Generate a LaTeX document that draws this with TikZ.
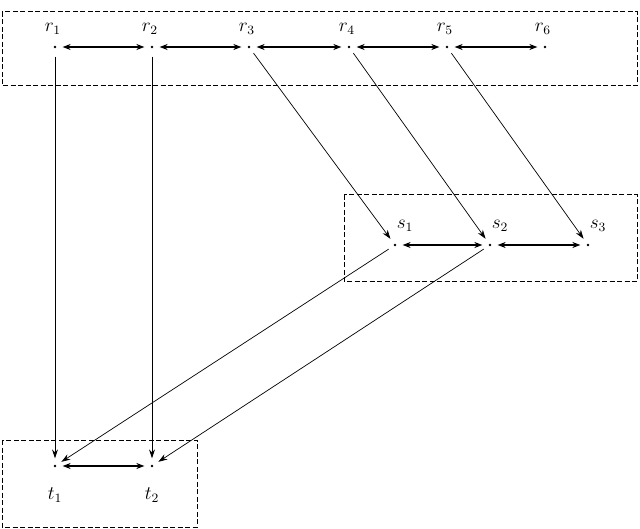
\documentclass[tikz,border=0pt]{standalone}
\usetikzlibrary{arrows.meta}
\begin{document}
\begin{tikzpicture}[x=1pt,y=-1pt,
  pt/.style={circle,fill,inner sep=1pt},
  lab/.style={inner sep=1pt,scale=1.6,font=\large},
  grp/.style={draw,line width=1pt,dash pattern=on 5pt off 2.5pt},
  bi/.style={{Stealth[length=8pt,width=6pt]}-{Stealth[length=8pt,width=6pt]},line width=2pt,shorten <=6pt,shorten >=6pt},
  vert/.style={-{Stealth[length=9pt,width=6pt]},line width=1pt,shorten <=8pt,shorten >=6pt},
  diag/.style={-{Stealth[length=9pt,width=6pt]},line width=0.7pt,shorten <=6pt,shorten >=6pt}]
\useasboundingbox (0,0) rectangle (640,529);
\draw[grp] (2,12) rectangle (637,86);
\draw[grp] (344,195) rectangle (637,282);
\draw[grp] (2,440) rectangle (197,527);
\foreach \i/\x in {1/55,2/152,3/249,4/349,5/447,6/545}{
  \node[pt] (r\i) at (\x,47) {};
  \node[lab] (lr\i) at (\x-2,29) {$r_{\i}$};
}
\foreach \i/\x in {1/395,2/490,3/588}{
  \node[pt] (s\i) at (\x,245) {};
  \node[lab] (ls\i) at (\x+10,226) {$s_{\i}$};
}
\foreach \i/\x in {1/55,2/152}{
  \node[pt] (t\i) at (\x,466) {};
  \node[lab] (lt\i) at (\x,495) {$t_{\i}$};
}
\foreach \a/\b in {1/2,2/3,3/4,4/5,5/6}{\draw[bi] (r\a) -- (r\b);}
\draw[bi] (s1) -- (s2); \draw[bi] (s2) -- (s3);
\draw[bi] (t1) -- (t2);
\draw[vert] (r1) -- (t1);
\draw[vert] (r2) -- (t2);
\draw[diag] (r3) -- (s1);
\draw[diag] (r4) -- (s2);
\draw[diag] (r5) -- (s3);
\draw[diag] (s1) -- (t1);
\draw[diag] (s2) -- (t2);
\end{tikzpicture}
\end{document}
